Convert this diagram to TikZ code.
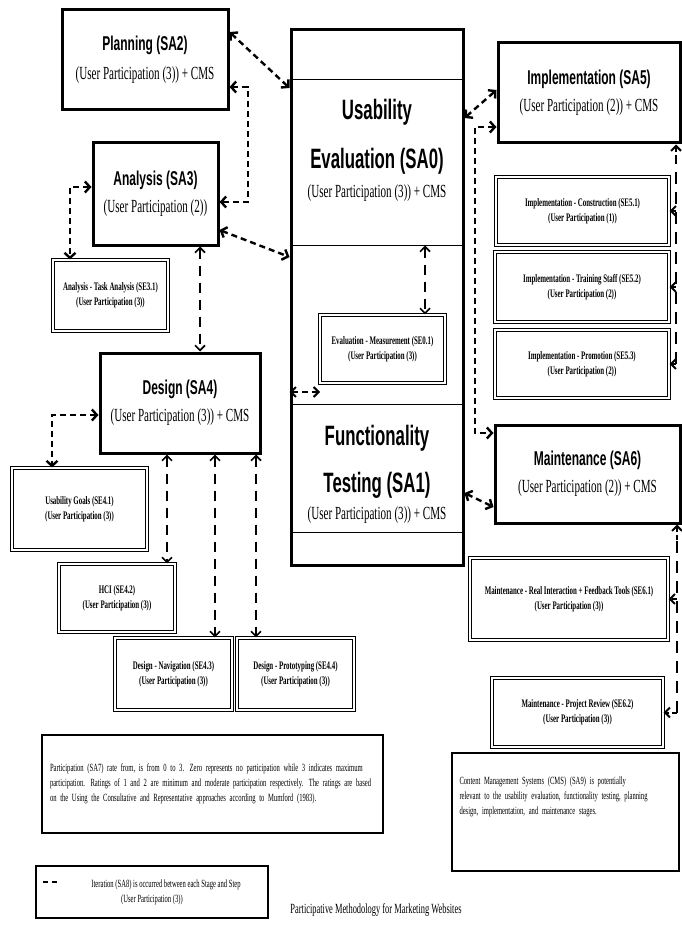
\documentclass[tikz,border=0pt]{standalone}
\usepackage{fontspec}
\setmainfont[FakeStretch=0.6]{Liberation Serif}
\newfontfamily\headfont[FakeStretch=0.6]{Liberation Sans}
\usetikzlibrary{arrows.meta}

\newcommand\stagehead[1]{{\headfont\bfseries\fontsize{20}{22}\selectfont #1}}
\newcommand\stagesub[1]{{\fontsize{18.5}{20}\selectfont #1}}
\newcommand\bighead[1]{{\headfont\bfseries\fontsize{28}{30}\selectfont #1}}

\begin{document}
\begin{tikzpicture}[x=1pt,y=-1pt,
  stage/.style={draw,line width=3pt,fill=white,align=center,inner sep=0pt},
  subbox/.style={draw,double,double distance=1.4pt,line width=1.1pt,fill=white,align=center,inner sep=0pt,
    font=\bfseries\fontsize{11.5}{15}\selectfont},
  note/.style={draw,line width=2.5pt,fill=white,align=left,inner sep=0pt,font=\fontsize{11}{15}\selectfont},
  dlink/.style={line width=2.4pt,dash pattern=on 6pt off 4pt,
    {Straight Barb[length=5pt,width=11pt]}-{Straight Barb[length=5pt,width=11pt]}},
  vlink/.style={line width=1.7pt,dash pattern=on 10pt off 7pt,
    {Straight Barb[length=5pt,width=10pt]}-{Straight Barb[length=5pt,width=10pt]}},
  rail/.style={line width=2pt,dash pattern=on 12pt off 8pt},
  railtip/.style={line width=2pt,dash pattern=on 5pt off 3pt,-{Straight Barb[length=5pt,width=10pt]}}]
\useasboundingbox (0,0) rectangle (681,925);

%%Stages left
\node (plan) [stage,minimum width=166pt,minimum height=100pt] at (145,60)
  {\stagehead{Planning (SA2)}\\[11pt]\stagesub{(User Participation (3)) + CMS}};
\node (anal) [stage,minimum width=125pt,minimum height=102pt] at (155.5,194)
  {\stagehead{Analysis (SA3)}\\[9pt]\stagesub{(User Participation (2))}};
\node (dsgn) [stage,minimum width=160pt,minimum height=100pt] at (180,403)
  {\stagehead{Design (SA4)}\\[9pt]\stagesub{(User Participation (3)) + CMS}};

%%Steps left
\node (se31) [subbox,minimum width=115pt,minimum height=71pt] at (110.5,295.5)
  {Analysis - Task Analysis (SE3.1)\\(User Participation (3))};
\node (se41) [subbox,minimum width=135pt,minimum height=82pt] at (79.5,509)
  {Usability Goals (SE4.1)\\(User Participation (3))};
\node (se42) [subbox,minimum width=116pt,minimum height=68pt] at (117,598)
  {HCI (SE4.2)\\(User Participation (3))};
\node (se43) [subbox,minimum width=117pt,minimum height=72pt] at (173.5,674)
  {Design - Navigation (SE4.3)\\(User Participation (3))};
\node (se44) [subbox,minimum width=117pt,minimum height=72pt] at (295.5,674)
  {Design - Prototyping (SE4.4)\\(User Participation (3))};

%%Centre column
\node (uev) [draw,line width=1pt,minimum width=172pt,minimum height=165pt] at (377,162.5) {};
\node (fnt) [draw,line width=1pt,minimum width=172pt,minimum height=128pt] at (377,468) {};
\node (core) [draw,line width=3pt,minimum width=172pt,minimum height=535pt] at (377,297.5) {};
\node (uevtext) [align=center] at (377,150)
  {\bighead{Usability}\\[22pt]\bighead{Evaluation (SA0)}\\[9pt]\stagesub{(User Participation (3)) + CMS}};
\node (fnttext) [align=center] at (377,474)
  {\bighead{Functionality}\\[20pt]\bighead{Testing (SA1)}\\[7pt]\stagesub{(User Participation (3)) + CMS}};
\node (se01) [subbox,minimum width=125pt,minimum height=68pt] at (382.5,349)
  {Evaluation - Measurement (SE0.1)\\(User Participation (3))};

%%Stages right
\node (impl) [stage,minimum width=182pt,minimum height=100pt] at (589,93)
  {\stagehead{Implementation (SA5)}\\[9pt]\stagesub{(User Participation (2)) + CMS}};
\node (mant) [stage,minimum width=185pt,minimum height=98pt] at (587.5,474)
  {\stagehead{Maintenance (SA6)}\\[9pt]\stagesub{(User Participation (2)) + CMS}};

%%Steps right
\node (se51) [subbox,minimum width=173pt,minimum height=68pt] at (582.5,211)
  {Implementation - Construction (SE5.1)\\(User Participation (1))};
\node (se52) [subbox,minimum width=174pt,minimum height=70pt] at (582,287)
  {Implementation - Training Staff (SE5.2)\\(User Participation (2))};
\node (se53) [subbox,minimum width=174pt,minimum height=68pt] at (582,364)
  {Implementation - Promotion (SE5.3)\\(User Participation (2))};
\node (se61) [subbox,minimum width=198pt,minimum height=82pt] at (569,599)
  {Maintenance - Real Interaction + Feedback Tools (SE6.1)\\(User Participation (3))};
\node (se62) [subbox,minimum width=171pt,minimum height=69pt] at (577.5,712.5)
  {Maintenance - Project Review (SE6.2)\\(User Participation (3))};

%%Notes
\node (rate) [note,minimum width=341pt,minimum height=98pt,text width=325pt] at (212.5,784)
  {Participation (SA7) rate from, is from 0 to 3. Zero represents no participation while 3 indicates maximum\\
   participation. Ratings of 1 and 2 are minimum and moderate participation respectively.\enspace The ratings are based\\
   on the Using the Consultative and Representative approaches according to Mumford (1983).};
\node (cms) [note,minimum width=227pt,minimum height=118pt,text width=212pt,text depth=62pt] at (565.5,812)
  {Content Management Systems (CMS) (SA9) is potentially\\
   relevant to the usability evaluation, functionality testing, planning\\
   design, implementation, and maintenance stages.};
\node (iter) [note,minimum width=232pt,minimum height=52pt,align=center] at (152,892)
  {\hspace*{28pt}Iteration (SA8) is occurred between each Stage and Step\\(User Participation (3))};
\node (title) [font=\fontsize{14}{16}\selectfont] at (376,910) {Participative Methodology for Marketing Websites};
\draw[line width=2pt,dash pattern=on 5pt off 4pt] (iter.north west) ++(8,17) coordinate (key) -- ++(17,0);

%%Links left
\draw[dlink] (plan.east |- 0,32) -- (core.west |- 0,88);
\draw[dlink] (plan.east |- 0,87) -- (248,87) -- (248,202) -- (anal.east |- 0,202);
\draw[dlink] (anal.east |- 0,230) -- (core.west |- 0,257);
\draw[dlink] (anal.west |- 0,187) -| (se31.north -| 70,0);
\draw[vlink] (200,0 |- anal.south) -- (200,0 |- dsgn.north);
\draw[dlink] (dsgn.west |- 0,415) -| (se41.north -| 52,0);
\draw[vlink] (167,0 |- dsgn.south) -- (167,0 |- se42.north);
\draw[vlink] (215,0 |- dsgn.south) -- (215,0 |- se43.north);
\draw[vlink] (256,0 |- dsgn.south) -- (256,0 |- se44.north);

%%Links centre
\draw[vlink] (425,0 |- uev.south) -- (425,0 |- se01.north);
\draw[line width=2pt,{Straight Barb[length=5pt,width=10pt]}-{Straight Barb[length=5pt,width=10pt]},
  dash pattern=on 6pt off 4pt] (core.west |- 0,392) -- (320,392);

%%Links right
\draw[dlink] (core.east |- 0,118) -- (impl.west |- 0,90);
\draw[dlink] (impl.west |- 0,127) -- (475,127) -- (475,433) -- (mant.west |- 0,433);
\draw[dlink] (core.east |- 0,493) -- (mant.west |- 0,507);
\draw[rail] (676,0 |- se53.east) -- (676,160);
\draw[railtip] (676,160) -- (676,0 |- impl.south);
\draw[railtip] (676,0 |- se51.east) -- (se51.east);
\draw[railtip] (676,0 |- se52.east) -- (se52.east);
\draw[railtip] (676,0 |- se53.east) -- (se53.east);
\draw[rail] (677,0 |- se62.east) -- (677,540);
\draw[railtip] (677,540) -- (677,0 |- mant.south);
\draw[railtip] (677,0 |- se61.east) -- (se61.east);
\draw[railtip] (677,0 |- se62.east) -- (se62.east);
\end{tikzpicture}
\end{document}
